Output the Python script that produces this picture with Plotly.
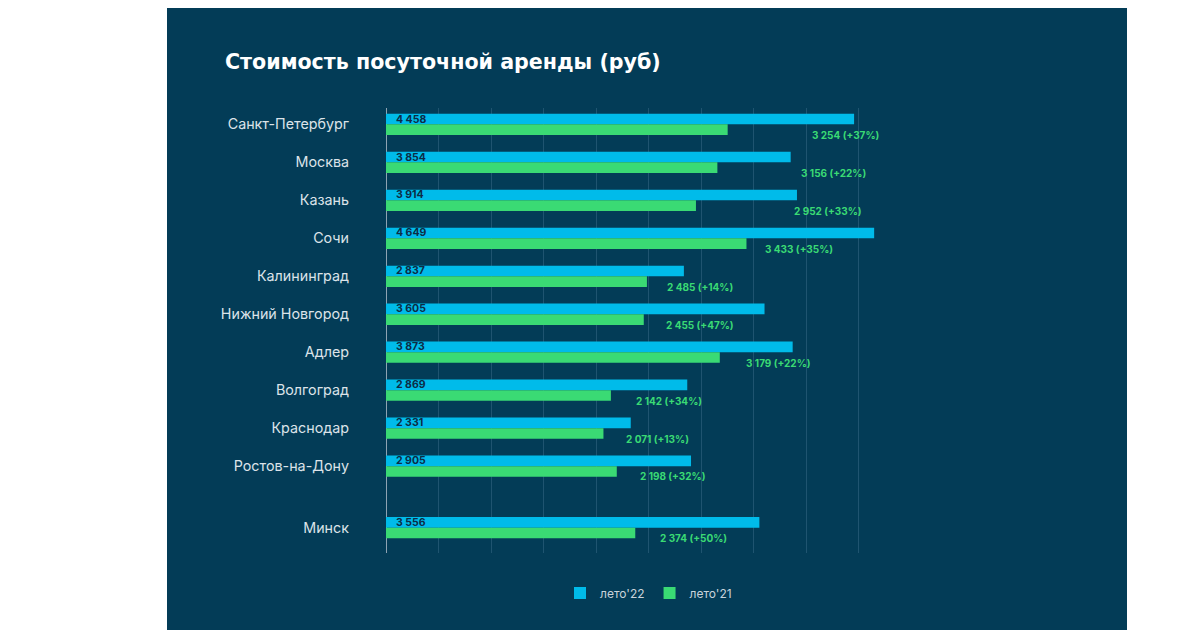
import plotly.graph_objects as go

cities = ["Санкт-Петербург", "Москва", "Казань", "Сочи", "Калининград",
          "Нижний Новгород", "Адлер", "Волгоград", "Краснодар", "Ростов-на-Дону", "Минск"]
summer22 = [4458, 3854, 3914, 4649, 2837, 3605, 3873, 2869, 2331, 2905, 3556]
summer21 = [3254, 3156, 2952, 3433, 2485, 2455, 3179, 2142, 2071, 2198, 2374]
series_names = ["лето'22", "лето'21"]
title_text = "Стоимость посуточной аренды (руб)"

# layout / style
PANEL = "#033C57"
BLUE = "#00BBEA"
GREEN = "#3ADA74"
GRID = "#1F5470"
minsk_gap = 0.62
bar_w = 0.28
green_label_shift = [82, 82, 96, 17, 18, 20, 24, 23, 21, 21, 23]

ypos = [i + (minsk_gap if c == "Минск" else 0) for i, c in enumerate(cities)]


def fmt(v):
    return f"{v:,}".replace(",", " ")


fig = go.Figure()
fig.add_trace(go.Bar(
    y=ypos, x=summer22, orientation="h", name=series_names[0],
    marker=dict(color=BLUE, line=dict(width=0)), width=bar_w, offset=-bar_w,
    hoverinfo="skip"))
fig.add_trace(go.Bar(
    y=ypos, x=summer21, orientation="h", name=series_names[1],
    marker=dict(color=GREEN, line=dict(width=0)), width=bar_w, offset=0,
    hoverinfo="skip"))

annotations = []
for y, a, b, sh in zip(ypos, summer22, summer21, green_label_shift):
    annotations.append(dict(
        x=0, y=y - bar_w / 2, xref="x", yref="y", text=fmt(a), showarrow=False,
        xanchor="left", yanchor="middle", xshift=8,
        font=dict(family="Inter", size=10.5, color="#0D2C45", weight="bold")))
    pct = round((a / b - 1) * 100)
    annotations.append(dict(
        x=b, y=y + bar_w / 2, xref="x", yref="y", text=f"{fmt(b)} (+{pct}%)",
        showarrow=False, xanchor="left", yanchor="middle", xshift=sh, yshift=-5,
        font=dict(family="Inter", size=10, color=GREEN, weight="bold")))

# page body has an 8px margin: target pixel p maps to figure pixel p - OFF
OFF = 8
W, H = 1200, 630
L, T = 386 - OFF, 108 - OFF
R = W - (911 - OFF)
B = H - (553 - OFF)
pw, ph = W - L - R, H - T - B


def px_x(p):
    return (p - OFF - L) / pw


def px_y(p):
    return (H - B - (p - OFF)) / ph


shapes = [
    dict(type="rect", xref="paper", yref="paper", layer="below",
         x0=px_x(167), x1=px_x(1127), y0=px_y(5), y1=px_y(650),
         fillcolor=PANEL, line=dict(width=0)),
]

fig.update_layout(
    width=W, height=H,
    margin=dict(l=L, r=R, t=T, b=B, autoexpand=False),
    paper_bgcolor="white", plot_bgcolor="rgba(0,0,0,0)",
    barmode="overlay",
    title=dict(text=title_text, xref="container", yref="container",
               x=(225 - OFF) / W, y=1 - (62 - OFF) / H, xanchor="left", yanchor="middle",
               font=dict(family="DejaVu Sans", size=20.6, color="white", weight="bold")),
    xaxis=dict(range=[0, 5000], dtick=500, showgrid=True, gridcolor=GRID, gridwidth=1,
               zeroline=True, zerolinecolor="#8EA3B3", zerolinewidth=1,
               showticklabels=False, fixedrange=True),
    yaxis=dict(range=[ypos[-1] + 0.666, -0.43], tickvals=ypos, ticktext=cities,
               showgrid=False, zeroline=False, ticks="", ticklabelstandoff=36,
               tickfont=dict(family="Inter", size=14.3, color="#DCE3E9")),
    legend=dict(orientation="h", x=0.5, xanchor="center", y=px_y(593), yanchor="middle",
                font=dict(family="Inter", size=12, color="#C9D3DB"),
                bgcolor="rgba(0,0,0,0)", itemclick=False),
    annotations=annotations,
    shapes=shapes,
    showlegend=True,
)

fig.write_html("out.html")
